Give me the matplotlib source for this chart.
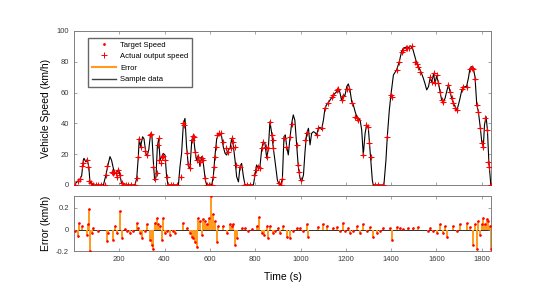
import matplotlib
matplotlib.use("Agg")
import matplotlib.pyplot as plt
from matplotlib.lines import Line2D

plt.rcParams['font.family'] = ['Liberation Sans', 'DejaVu Sans']

# sample data (black line)
line_t = [0, 19, 26, 34, 41, 44, 53, 59, 66, 70, 74, 85, 130, 141, 149, 159, 166, 177, 184, 191,
          197, 203, 210, 218, 269, 277, 284, 288, 294, 303, 309, 318, 324, 330, 338, 344, 350, 356,
          362, 368, 374, 380, 387, 394, 402, 409, 415, 461, 468, 475, 483, 490, 497, 505, 512, 520,
          527, 534, 541, 549, 556, 564, 571, 580, 586, 608, 615, 622, 630, 637, 645, 652, 659, 667,
          674, 681, 689, 696, 703, 711, 718, 726, 733, 740, 748, 755, 792, 799, 806, 814, 821, 829,
          836, 843, 851, 858, 865, 873, 880, 887, 898, 907, 914, 920, 927, 933, 939, 946, 954, 961,
          968, 975, 983, 990, 998, 1005, 1013, 1020, 1027, 1035, 1042, 1049, 1057, 1064, 1071, 1079,
          1086, 1093, 1101, 1108, 1115, 1130, 1145, 1160, 1167, 1174, 1181, 1189, 1196, 1204, 1211,
          1218, 1226, 1233, 1241, 1248, 1255, 1263, 1270, 1277, 1285, 1292, 1299, 1304, 1309, 1317,
          1321, 1368, 1377, 1383, 1392, 1399, 1410, 1424, 1436, 1446, 1453, 1464, 1475, 1486, 1495,
          1505, 1513, 1524, 1534, 1542, 1549, 1557, 1565, 1572, 1579, 1587, 1594, 1601, 1609, 1616,
          1623, 1631, 1638, 1645, 1653, 1660, 1667, 1675, 1682, 1690, 1697, 1704, 1712, 1719, 1726,
          1733, 1741, 1748, 1755, 1763, 1770, 1778, 1785, 1793, 1800, 1807, 1812, 1819, 1825, 1831,
          1837, 1840]
line_v = [0, 2.8, 3.7, 6, 16, 17.3, 15, 16.6, 11, 3, 1, 0, 0, 6.5, 12.3, 18.4, 16, 8.6, 7.6, 8.6,
          10, 6.5, 1, 0, 0, 4.3, 18.4, 30, 25, 31.3, 30, 20, 19.4, 22.7, 33, 32.4, 16, 3,
          5, 24.8, 30, 16, 18.4, 20.5, 19.4, 5.4, 0, 0, 12, 20.5, 40, 43.2, 25, 12, 10.8, 29,
          32.4, 22.7, 16, 19.4, 12, 18.4, 14, 3, 0, 0, 5.4, 18.4, 30, 32.4, 33.5, 31.3, 24.8, 20.5,
          19.4, 22.7, 23.8, 30, 26, 16, 5.4, 2, 12, 14, 5.4, 0, 0, 6.5, 13, 11, 12, 23.8,
          28, 27, 17.3, 23.8, 41, 33.5, 23.8, 16, 3, 0, 0.5, 4.3, 31.4, 32.5, 24.9, 19.5, 31.4, 40,
          45.5, 42, 26, 12, 4.3, 2.2, 6.5, 22, 33.5, 36.8, 26, 33.5, 34.6, 34, 32.5, 36.8,
          37.4, 36, 42, 49.8, 52, 55, 58.4, 60.6, 62.8, 60, 55, 58.4, 58, 63.9, 65.6,
          62, 54, 52, 47.6, 44.4, 43.3, 42.2, 35.7, 19.5, 33.5, 39, 37.5, 28, 18.4, 3,
          0, 0, 16, 31.4, 48.7, 58.4, 71.4, 74.7, 80, 86.6, 88.7, 89.4, 89.2, 90.3, 88.5,
          83.3, 79, 75.8, 72.5, 69.3, 66, 61.7, 63.9, 69.3, 67, 72, 66, 71, 66, 60.6,
          55, 54, 56.3, 60.6, 65, 60.5, 56.3, 53, 50.9, 48.7, 52, 56.3, 61.7, 62.8, 63.9,
          64, 69.3, 75.8, 76.8, 75.6, 70.3, 52, 47.6, 37.9, 28, 24.9, 39, 44.4, 35.7, 16,
          5.4, 0]

# target / actual output speed samples (red markers)
mark_t = [4, 19, 26, 34, 41, 59, 63, 68, 74, 85, 97, 107, 118, 137, 141, 147, 169, 174, 178, 185,
          188, 196, 203, 210, 218, 228, 240, 250, 269, 277, 281, 286, 294, 313, 324, 336, 340, 350,
          356, 365, 369, 374, 377, 383, 387, 394, 402, 409, 416, 428, 439, 453, 471, 483, 487, 497,
          505, 512, 520, 524, 530, 536, 542, 549, 556, 564, 571, 578, 586, 596, 608, 615, 620, 623,
          627, 633, 642, 649, 656, 671, 681, 692, 699, 703, 711, 715, 733, 752, 765, 777, 796, 804,
          812, 821, 829, 836, 846, 851, 858, 865, 873, 877, 880, 904, 914, 920, 927, 936, 954, 961,
          983, 990, 995, 1001, 1020, 1027, 1071, 1079, 1093, 1108, 1123, 1138, 1145, 1160, 1167,
          1182, 1189, 1204, 1216, 1226, 1241, 1248, 1255, 1277, 1289, 1296, 1304, 1310, 1329, 1343,
          1363, 1383, 1398, 1402, 1424, 1436, 1446, 1453, 1464, 1471, 1479, 1491, 1505, 1513, 1520,
          1527, 1572, 1579, 1587, 1594, 1601, 1609, 1616, 1623, 1631, 1653, 1660, 1667, 1675, 1682,
          1690, 1712, 1719, 1734, 1748, 1755, 1763, 1770, 1778, 1785, 1793, 1800, 1807, 1815, 1822,
          1828, 1831, 1840]
mark_v = [0, 2.8, 3.7, 12.1, 14.3, 16.4, 11.9, 2.6, 1.1, 0, 0, 0, 0, 0, 6.5, 12.5, 8.2, 7.6, 8.6, 7.6,
          5.0, 9.7, 6.5, 1.1, 0, 0, 0, 0, 0, 4.3, 18.4, 29.6, 24.8, 22, 19.4, 32.4, 33, 11.9,
          3.7, 7.6, 25.9, 30.2, 16.2, 14, 18.4, 18.8, 16.2, 5.4, 0, 0, 0, 0, 5.4, 40, 38.9, 20.5,
          13.6, 10.8, 29.2, 31.8, 31.3, 21.6, 16.2, 18.4, 15.1, 17.3, 16.2, 4.3, 0, 0, 0, 5.4, 11.9, 18.4,
          24.8, 32.4, 33.5, 33.5, 28.1, 23.8, 21.6, 23.8, 30.2, 28.1, 24.8, 13, 11.9, 0, 0, 0, 6.5, 9.7,
          11.9, 10.8, 23.8, 28.1, 24.8, 18.4, 23.8, 41, 32.4, 29.2, 23.8, 1.1, 0, 3.7, 30.2, 24.8, 31.3, 39.5,
          25.9, 13, 8.6, 3.2, 29.2, 33.5, 32.4, 36.7, 36.7, 49.7, 52.9, 57.2, 58.3, 61.6, 62,
          55.1, 57.7, 62.6, 62.6, 52.9, 44.3, 43.2, 42.1, 19.4, 38.9, 37.8, 27.4, 18.4, 0, 0,
          0, 31.3, 58.3, 57.2, 74.5, 79.9, 86.4, 87.9, 89.2, 89.2, 89.2, 90.1, 79.9, 78.8, 76.7,
          73.4, 70.2, 67, 72.4, 65.9, 71.3, 65.9, 60.5, 55.1, 54, 64.8, 60.5, 56.2, 52.9, 49.7,
          48.6, 62.6, 63.7, 63.7, 75.6, 76.2, 75.6, 69.1, 51.8, 47.5, 36.7, 27, 24.8, 43.2, 35.6,
          15.1, 11.9, 0]

# speed error
err_t = [4, 19, 24, 34, 56, 63, 66, 70, 78, 85, 107, 144, 151, 174, 181, 188, 203, 210, 225, 232,
         247, 262, 277, 284, 291, 299, 313, 324, 336, 343, 350, 358, 365, 372, 380, 387, 394, 402,
         409, 424, 439, 446, 483, 497, 512, 520, 527, 534, 542, 549, 556, 564, 571, 578, 586, 598,
         606, 615, 622, 630, 637, 656, 674, 689, 696, 703, 711, 718, 740, 755, 770, 784, 806, 818,
         829, 839, 850, 858, 865, 880, 887, 902, 909, 924, 939, 954, 968, 983, 998, 1012, 1027,
         1035, 1079, 1101, 1115, 1145, 1160, 1174, 1186, 1196, 1211, 1218, 1233, 1248, 1263, 1274,
         1292, 1307, 1321, 1336, 1351, 1366, 1395, 1402, 1424, 1439, 1454, 1476, 1498, 1520, 1564,
         1572, 1586, 1601, 1616, 1631, 1638, 1645, 1675, 1690, 1704, 1734, 1749, 1763, 1770, 1778,
         1785, 1793, 1800, 1807, 1815, 1822, 1829, 1836, 1840]
err_v = [-0.016, -0.06, 0.06, 0.03, -0.05, 0.05, 0.19, -0.2, -0.03, 0.016, -0.016, -0.1, -0.03,
         -0.095, 0.03, -0.03, 0.17, -0.08, 0.01, -0.016, -0.03, -0.016, 0.06, 0.016, -0.03, -0.08,
         -0.016, 0.054, -0.095, -0.14, -0.175, 0.063, 0.11, 0.048, 0.03, -0.095, 0.11, -0.03,
         -0.016, -0.048, -0.016, -0.03, 0.063, 0.016, -0.03, -0.063, -0.08, -0.11, -0.16, 0.11,
         0.08, -0.048, 0.095, 0.08, 0.048, 0.11, 0.31, 0.14, 0.08, -0.11, 0.03, 0.03, -0.03, 0.048,
         0.03, 0.048, -0.14, -0.08, 0.016, 0.016, -0.016, 0.01, 0.03, 0.12, -0.03, -0.048, 0.03,
         -0.08, 0.03, -0.03, -0.016, 0.016, -0.03, 0.03, -0.063, -0.08, -0.016, 0.016, 0.016,
         -0.016, 0.048, -0.063, 0.022, 0.048, 0.03, 0.016, 0.022, -0.016, 0.063, -0.016, 0.016,
         -0.03, -0.016, 0.03, -0.03, 0.048, -0.016, 0.022, -0.063, -0.03, -0.016, 0.016, 0.016,
         -0.095, 0.022, 0.016, 0.01, 0.016, 0.016, 0.022, -0.016, 0.016, -0.01, -0.03, 0.048,
         -0.03, 0.03, -0.063, 0.03, -0.016, 0.048, 0.063, 0.022, -0.14, 0.048, -0.175, 0.08,
         -0.048, 0.054, 0.11, 0.048, 0.095, 0.08, 0.03, -0.175]

tick_col = '#3a3a3a'
spine_col = '#808080'
orange = '#ff9a1a'

fig = plt.figure(figsize=(5.52, 2.89), dpi=100)
ax1 = fig.add_axes([0.134, 0.360, 0.756, 0.533])
ax2 = fig.add_axes([0.134, 0.130, 0.756, 0.192])

ax1.plot(line_t, line_v, color='black', lw=0.8, zorder=2)
ax1.plot(mark_t, mark_v, ls='none', marker='+', ms=4.5, mew=0.7, color='red', zorder=3)
ax1.plot(mark_t, mark_v, ls='none', marker='.', ms=1.5, color='red', zorder=4)
ax1.set_xlim(0, 1842)
ax1.set_ylim(0, 100)
ax1.set_yticks([0, 20, 40, 60, 80, 100])
ax1.set_xticks(range(200, 1801, 200))
ax1.set_xticklabels([])
ax1.set_ylabel('Vehicle Speed (km/h)', fontsize=7.5, labelpad=4)

ax2.vlines(err_t, 0, err_v, color=orange, lw=1.4, zorder=2)
ax2.plot(err_t, err_v, ls='none', marker='.', ms=1.8, color='red', zorder=3)
ax2.axhline(0, color='#303030', lw=0.7, zorder=1)
ax2.set_xlim(0, 1842)
ax2.set_ylim(-0.2, 0.31)
ax2.set_yticks([-0.2, 0, 0.2])
ax2.set_yticklabels(['-0.2', '0', '0.2'])
ax2.set_xticks(range(200, 1801, 200))
ax2.set_ylabel('Error (km/h)', fontsize=7.5, labelpad=4)
ax2.set_xlabel('Time (s)', fontsize=7.5, labelpad=6)

for ax in (ax1, ax2):
    for s in ax.spines.values():
        s.set_color(spine_col)
        s.set_linewidth(0.7)
    ax.tick_params(direction='in', length=2.5, width=0.5, color=spine_col,
                   labelsize=5.5, labelcolor=tick_col, top=True, right=True)

handles = [
    Line2D([], [], ls='none', marker='.', ms=2, color='red'),
    Line2D([], [], ls='none', marker='+', ms=4.5, mew=0.7, color='red'),
    Line2D([], [], color=orange, lw=1.5),
    Line2D([], [], color='#404040', lw=1.0),
]
ax1.legend(handles, ['Target Speed', 'Actual output speed', 'Error', 'Sample data'],
           loc='upper left', bbox_to_anchor=(0.025, 0.98), fontsize=5.5, frameon=True,
           fancybox=False, edgecolor='#404040', handlelength=3.2, borderpad=0.45,
           labelspacing=0.55, handletextpad=0.5)

fig.savefig('out.png', dpi=100)
